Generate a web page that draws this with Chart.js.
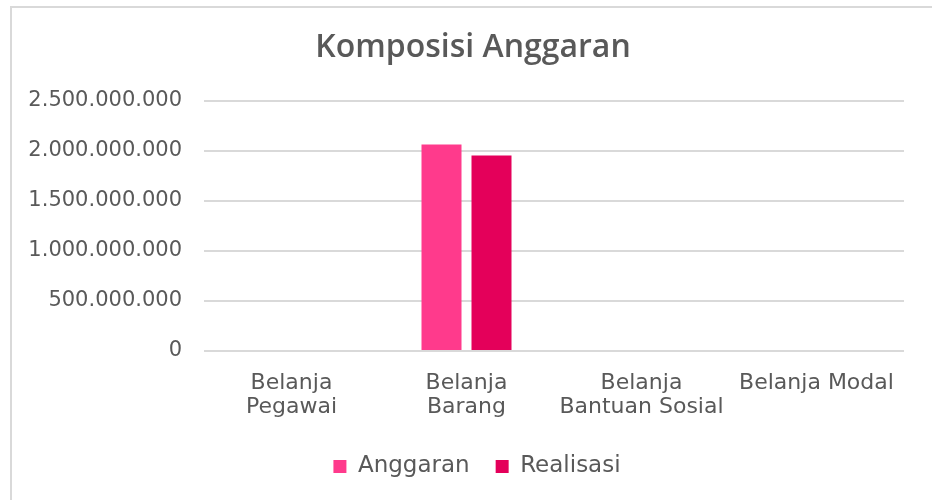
<!DOCTYPE html>
<html>
<head>
<meta charset="utf-8">
<script src="https://cdn.jsdelivr.net/npm/chart.js@4/dist/chart.umd.min.js"></script>
<style>
  html, body { margin: 0; padding: 0; background: #ffffff; overflow: hidden; }
  canvas { display: block; }
</style>
</head>
<body>
<canvas id="c" width="932" height="500"></canvas>
<script>
const categories = [["Belanja", "Pegawai"], ["Belanja", "Barang"], ["Belanja", "Bantuan Sosial"], "Belanja Modal"];
const seriesNames = ["Anggaran", "Realisasi"];
const anggaran = [0, 2065000000, 0, 0];
const realisasi = [0, 1955000000, 0, 0];
const yTicks = [0, 500000000, 1000000000, 1500000000, 2000000000, 2500000000];

const FONT = "'DejaVu Sans', sans-serif";
const TXT = '#595959';
function fmt(v) { return String(Math.round(v)).replace(/\B(?=(\d{3})+(?!\d))/g, '.'); }

const framePlugin = {
  id: 'frame',
  beforeDraw(chart) {
    const ctx = chart.ctx;
    ctx.save();
    ctx.fillStyle = '#ffffff';
    ctx.fillRect(0, 0, chart.width, chart.height);
    ctx.strokeStyle = '#d9d9d9';
    ctx.lineWidth = 2;
    ctx.beginPath();
    ctx.moveTo(11, chart.height);
    ctx.lineTo(11, 7);
    ctx.lineTo(chart.width, 7);
    ctx.stroke();
    ctx.restore();
  },
  afterLayout(chart) {
    // centre legend and title on the outer frame rather than the padded chart box
    if (chart.legend) { chart.legend.left += 25; chart.legend.right += 25; }
    if (chart.titleBlock) { chart.titleBlock.left += 21; chart.titleBlock.right += 21; }
  }
};

new Chart(document.getElementById('c'), {
  type: 'bar',
  data: {
    labels: categories,
    datasets: [
      { label: seriesNames[0], data: anggaran, backgroundColor: '#FF3A8C',
        categoryPercentage: 100/175, barPercentage: 0.8 },
      { label: seriesNames[1], data: realisasi, backgroundColor: '#E4005A',
        categoryPercentage: 100/175, barPercentage: 0.8 }
    ]
  },
  plugins: [framePlugin],
  options: {
    responsive: false,
    animation: false,
    layout: { padding: { left: 0, right: 28, top: 0, bottom: 12 } },
    plugins: {
      title: { display: true, text: 'Komposisi Anggaran', color: TXT,
        font: { family: "'Open Sans', 'DejaVu Sans', sans-serif", size: 32, weight: 600, lineHeight: 1.2 },
        padding: { top: 29, bottom: 33.6 } },
      legend: { position: 'bottom',
        labels: { color: TXT, boxWidth: 13, boxHeight: 13, padding: 26,
          font: { family: FONT, size: 23 } } },
      tooltip: { enabled: false }
    },
    scales: {
      x: {
        afterFit: (s) => { s.height = 78; },
        grid: { display: false, drawTicks: false },
        border: { display: false },
        ticks: { color: TXT, font: { family: FONT, size: 22, lineHeight: 1.06 }, padding: 21, maxRotation: 0, autoSkip: false }
      },
      y: {
        min: 0, max: 2500000000,
        afterBuildTicks: (s) => { s.ticks = yTicks.map(v => ({ value: v })); },
        afterFit: (s) => { s.width = 204; },
        grid: { color: '#d9d9d9', lineWidth: 2, drawTicks: false },
        border: { display: false },
        ticks: { color: TXT, font: { family: FONT, size: 21 }, padding: 22, callback: (v) => fmt(v) }
      }
    }
  }
});
</script>
</body>
</html>
